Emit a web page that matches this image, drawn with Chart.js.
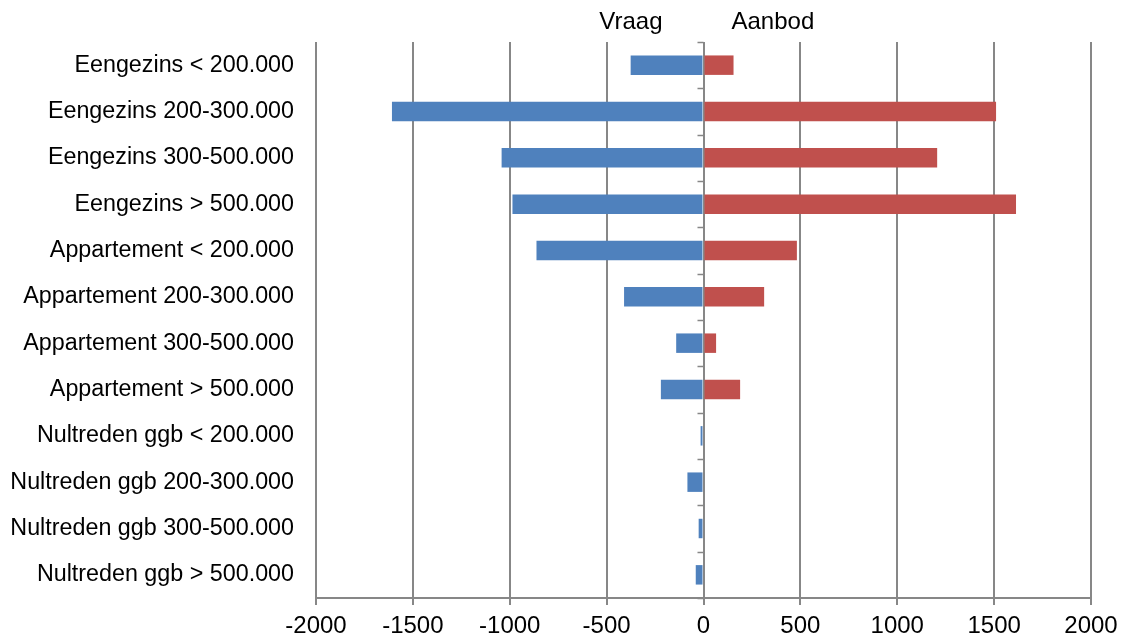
<!DOCTYPE html>
<html>
<head>
<meta charset="utf-8">
<script src="https://cdn.jsdelivr.net/npm/chart.js@4"></script>
<style>
html,body{margin:0;padding:0;background:#fff;}
#wrap{width:1130px;height:637px;}
</style>
</head>
<body>
<div id="wrap"><canvas id="c" width="1130" height="637"></canvas></div>
<script>
const categories = [
  "Eengezins < 200.000",
  "Eengezins 200-300.000",
  "Eengezins 300-500.000",
  "Eengezins > 500.000",
  "Appartement < 200.000",
  "Appartement 200-300.000",
  "Appartement 300-500.000",
  "Appartement > 500.000",
  "Nultreden ggb < 200.000",
  "Nultreden ggb 200-300.000",
  "Nultreden ggb 300-500.000",
  "Nultreden ggb > 500.000"
];
const vraag = [-376, -1608, -1042, -986, -862, -410, -141, -220, -15, -83, -25, -40];
const aanbod = [155, 1510, 1206, 1613, 482, 313, 65, 189, 0, 0, 0, 0];
const xTicks = [-2000, -1500, -1000, -500, 0, 500, 1000, 1500, 2000];

const FONT = "'Liberation Sans', Arial, sans-serif";
const GRID = '#878787';

const extras = {
  id: 'extras',
  afterDraw(chart) {
    const ctx = chart.ctx;
    const x = chart.scales.x, y = chart.scales.y;
    const x0 = x.getPixelForValue(0);
    ctx.save();
    // small category tick marks at the zero line
    ctx.strokeStyle = GRID;
    ctx.lineWidth = 1.5;
    const n = categories.length;
    const step = (y.bottom - y.top) / n;
    for (let i = 0; i <= n; i++) {
      const yy = Math.round(y.top + i * step) + 0.5;
      ctx.beginPath();
      ctx.moveTo(x0 - 6, yy);
      ctx.lineTo(x0, yy);
      ctx.stroke();
    }
    // series labels at the top
    ctx.fillStyle = '#000';
    ctx.font = "24px " + FONT;
    ctx.textBaseline = 'middle';
    ctx.textAlign = 'right';
    ctx.fillText(chart.data.datasets[0].label, x0 - 41, 22);
    ctx.textAlign = 'left';
    ctx.fillText(chart.data.datasets[1].label, x0 + 28, 22);
    ctx.restore();
  }
};

new Chart(document.getElementById('c'), {
  type: 'bar',
  data: {
    labels: categories,
    datasets: [
      { label: 'Vraag', data: vraag, backgroundColor: '#4F81BD', barPercentage: 0.84, categoryPercentage: 0.5 },
      { label: 'Aanbod', data: aanbod, backgroundColor: '#C0504D', barPercentage: 0.84, categoryPercentage: 0.5 }
    ]
  },
  options: {
    indexAxis: 'y',
    responsive: false,
    animation: false,
    devicePixelRatio: 1,
    layout: { padding: { top: 42, right: 39, left: 0, bottom: 0 } },
    plugins: { legend: { display: false }, tooltip: { enabled: false } },
    scales: {
      x: {
        stacked: true,
        min: -2000, max: 2000,
        afterBuildTicks(s) { s.ticks = xTicks.map(v => ({ value: v })); },
        afterFit(s) { s.height = 39; },
        grid: { color: GRID, lineWidth: 2, tickLength: 7, drawTicks: true },
        border: { color: GRID, width: 2 },
        ticks: { color: '#000', font: { family: FONT, size: 24 }, padding: 7, maxRotation: 0,
                 callback: (v) => String(v) }
      },
      y: {
        stacked: true,
        afterFit(s) { s.width = 316; },
        grid: { display: false, drawTicks: false },
        border: { display: false },
        ticks: { color: '#000', font: { family: FONT, size: 23.3 }, padding: 22, autoSkip: false }
      }
    }
  },
  plugins: [extras]
});
</script>
</body>
</html>
